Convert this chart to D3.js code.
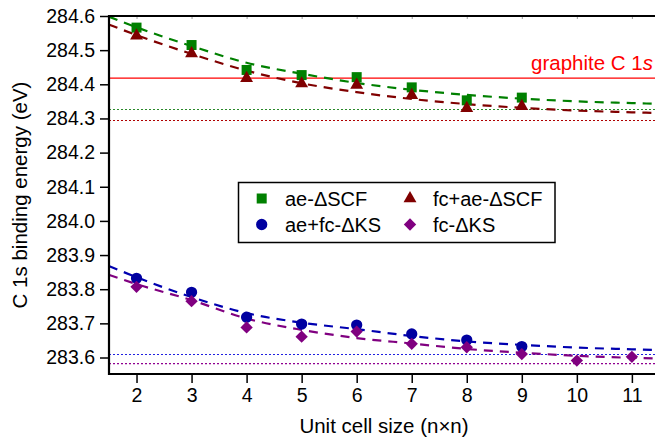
<!DOCTYPE html>
<html><head><meta charset="utf-8">
<script src="https://cdn.jsdelivr.net/npm/d3@7"></script>
<style>body{margin:0;background:#fff}svg{display:block;font-family:"Liberation Sans",Arial,sans-serif}</style>
</head><body><svg id="c" width="655" height="442"></svg>
<script>
// ---- data ----
const cellSizes = [2, 3, 4, 5, 6, 7, 8, 9];
const aeSCF   = [284.566, 284.515, 284.442, 284.427, 284.421, 284.391, 284.353, 284.361];
const fcaeSCF = [284.542, 284.490, 284.418, 284.402, 284.398, 284.368, 284.330, 284.336];
const aefcKS  = [283.832, 283.791, 283.718, 283.698, 283.695, 283.669, 283.651, 283.632];
const fcKSsizes = [2, 3, 4, 5, 6, 7, 8, 9, 10, 11];
const fcKS    = [283.807, 283.765, 283.688, 283.661, 283.676, 283.640, 283.630, 283.610, 283.591, 283.602];

// fitted curves
const fitX       = [1.5, 2, 3, 4, 5, 6, 7, 8, 9, 10, 11, 11.42];
const aeSCFFit   = [284.598, 284.567, 284.512, 284.463, 284.431, 284.404, 284.384, 284.369, 284.358, 284.350, 284.345, 284.343];
const fcaeSCFFit = [284.575, 284.544, 284.489, 284.440, 284.403, 284.377, 284.357, 284.342, 284.331, 284.323, 284.318, 284.316];
const aefcKSFit  = [283.868, 283.835, 283.777, 283.730, 283.702, 283.683, 283.663, 283.647, 283.637, 283.629, 283.624, 283.622];
const fcKSFit    = [283.842, 283.815, 283.768, 283.714, 283.681, 283.657, 283.641, 283.625, 283.614, 283.605, 283.599, 283.597];

// extrapolated limits and reference
const limits = [284.326, 284.294, 283.609, 283.582];
const graphite = 284.418;

const xTicks = [2, 3, 4, 5, 6, 7, 8, 9, 10, 11];
const yTicks = [283.6, 283.7, 283.8, 283.9, 284.0, 284.1, 284.2, 284.3, 284.4, 284.5, 284.6];
const seriesNames = ["ae-\u0394SCF", "fc+ae-\u0394SCF", "ae+fc-\u0394KS", "fc-\u0394KS"];

// ---- drawing ----
const C = {green:"#008000", red:"#800000", blue:"#0000a0", purple:"#800080"};
const svg = d3.select("#c");
const L = 109, T = 16, R = 655, B = 374;
const x = d3.scaleLinear().domain([1.5, 11.42]).range([L, R]);
const y = d3.scaleLinear().domain([283.5517, 284.6]).range([B, T]);

// limit lines (dotted)
const limCols = ["#2a8a2a", "#b00000", "#2020e0", "#900090"];
limits.forEach((v, i) => {
  svg.append("line").attr("x1", L).attr("x2", R).attr("y1", y(v)).attr("y2", y(v))
    .attr("stroke", limCols[i]).attr("stroke-width", 1.1).attr("stroke-dasharray", "2,2");
});
// graphite
svg.append("line").attr("x1", L).attr("x2", R).attr("y1", y(graphite)).attr("y2", y(graphite))
  .attr("stroke", "#ff0000").attr("stroke-width", 1.3);
const gt = svg.append("text").attr("x", 653).attr("y", 70).attr("text-anchor", "end")
  .attr("fill", "#ff0000").attr("font-size", 20.5);
gt.append("tspan").text("graphite C 1");
gt.append("tspan").attr("font-style", "italic").text("s");

// fits
const fits = [[aeSCFFit, C.green], [fcaeSCFFit, C.red], [aefcKSFit, "#0000b0"], [fcKSFit, C.purple]];
const line = d3.line().x(d => x(d[0])).y(d => y(d[1])).curve(d3.curveMonotoneX);
fits.forEach(([vals, col]) => {
  svg.append("path").attr("d", line(fitX.map((v, i) => [v, vals[i]])))
    .attr("fill", "none").attr("stroke", col).attr("stroke-width", 2.2)
    .attr("stroke-dasharray", "9,7");
});

// markers
const sym = {
  square: d3.symbol().type(d3.symbolSquare).size(100),
  tri: d3.symbol().type(d3.symbolTriangle).size(72),
  circ: d3.symbol().type(d3.symbolCircle).size(100),
  dia: d3.symbol().type(d3.symbolSquare).size(76)
};
function marks(xs, vals, gen, col, rot) {
  svg.append("g").selectAll("path").data(xs.map((v, i) => [v, vals[i]])).join("path")
    .attr("d", gen()).attr("fill", col)
    .attr("transform", d => `translate(${x(d[0])},${y(d[1])})` + (rot ? ` rotate(${rot})` : ""));
}
marks(cellSizes, aeSCF, sym.square, C.green);
marks(cellSizes, fcaeSCF, sym.tri, C.red);
marks(cellSizes, aefcKS, sym.circ, C.blue);
marks(fcKSsizes, fcKS, sym.dia, C.purple, 45);

// axes
const yAxis = d3.axisLeft(y).tickValues(yTicks).tickFormat(d3.format(".1f")).tickSize(9).tickPadding(5);
const gy = svg.append("g").attr("transform", `translate(${L},0)`).call(yAxis);
gy.select(".domain").remove();
gy.selectAll(".tick line").attr("stroke", "#000").attr("stroke-width", 1.5);
gy.selectAll("text").attr("font-size", 19.5).attr("fill", "#000");

const xAxis = d3.axisBottom(x).tickValues(xTicks).tickFormat(d3.format("d")).tickSize(9).tickPadding(5);
const gx = svg.append("g").attr("transform", `translate(0,${B})`).call(xAxis);
gx.select(".domain").remove();
gx.selectAll(".tick line").attr("stroke", "#000").attr("stroke-width", 1.5);
gx.selectAll("text").attr("font-size", 19.5).attr("fill", "#000");

// top minor ticks
const gtp = svg.append("g").attr("transform", `translate(0,${T})`).call(d3.axisBottom(x).tickValues(xTicks).tickSize(3).tickFormat(""));
gtp.select(".domain").remove();
gtp.selectAll(".tick line").attr("stroke", "#999").attr("stroke-width", 1);

// frame lines
svg.append("path").attr("d", `M${R},${T}H${L}V${B}H${R}`).attr("fill", "none")
  .attr("stroke", "#000").attr("stroke-width", 2.2);

// axis titles
svg.append("text").attr("x", 384).attr("y", 433).attr("text-anchor", "middle")
  .attr("font-size", 20.5).text("Unit cell size (n\u00d7n)");
svg.append("text").attr("transform", `translate(27,${(T + B) / 2}) rotate(-90)`)
  .attr("text-anchor", "middle").attr("font-size", 20.5).text("C 1s binding energy (eV)");

// legend
const lg = svg.append("g");
lg.append("rect").attr("x", 238.5).attr("y", 182.5).attr("width", 316.5).attr("height", 60)
  .attr("fill", "#fff").attr("stroke", "#000").attr("stroke-width", 1.5);
const leg = [
  [sym.square, C.green, 0, 261.7, 198.5, 285, 0],
  [sym.tri, C.red, 1, 410, 198.5, 433, 0],
  [sym.circ, C.blue, 2, 261.7, 224.5, 285, 0],
  [sym.dia, C.purple, 3, 410, 224.5, 433, 45]
];
leg.forEach(([g, col, i, sx, sy, tx, rot]) => {
  lg.append("path").attr("d", g()).attr("fill", col)
    .attr("transform", `translate(${sx},${sy})` + (rot ? ` rotate(${rot})` : ""));
  lg.append("text").attr("x", tx).attr("y", sy + 7).attr("font-size", 20).text(seriesNames[i]);
});
</script></body></html>
